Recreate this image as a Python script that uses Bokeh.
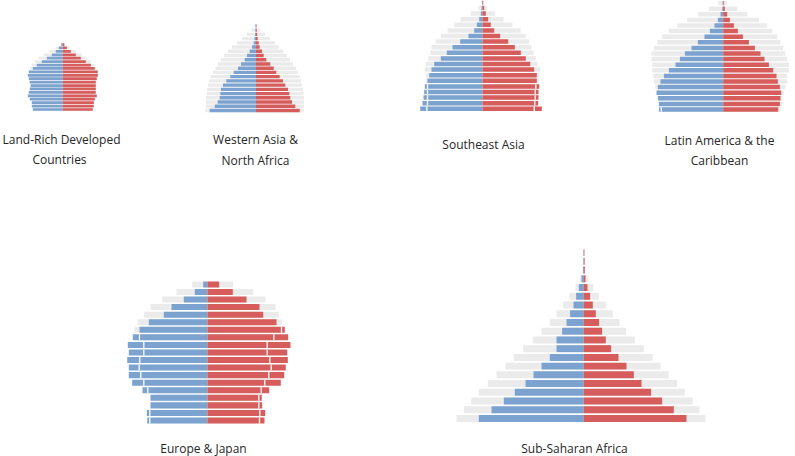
from bokeh.plotting import figure
from bokeh.models import Range1d
from bokeh.embed import file_html
from bokeh.resources import INLINE
from bokeh.core.properties import value

# ---------------- data (rows from youngest age group upward) ----------------
# Land-Rich Developed Countries
lr_male   = [30, 31, 31, 33, 35, 34, 33, 32, 33, 34, 35, 34, 30, 26, 21, 16, 11, 7, 4, 1.5]
lr_female = [30, 31, 31, 32, 34, 33, 33, 33, 33, 34, 35, 35, 32, 28, 23, 18, 13, 8, 4, 1.5]
lr_grey_m = [28, 29, 30, 31, 32, 32, 33, 33, 34, 34, 34, 34, 33, 31, 28, 24, 19, 13, 7, 2]
lr_grey_f = [28, 29, 30, 31, 32, 32, 33, 33, 34, 34, 34, 34, 33, 31, 28, 24, 19, 13, 7, 2]

# Western Asia & North Africa
wa_male   = [46.3, 41.3, 38.3, 36.3, 35.7, 35, 33, 29.7, 25.7, 22.3, 18, 15, 11.3, 9, 6.3, 4, 2.3, 1.5, 1, 0.7, 0.5]
wa_female = [43.7, 39.3, 36, 34.3, 33.3, 32, 29.3, 27, 23.7, 20.3, 17.7, 14.3, 10.3, 7.7, 6, 3.7, 2.7, 1.7, 1.2, 0.8, 0.5]
wa_grey_m = [50.7, 50, 50, 50, 49.5, 49, 48, 47, 45.5, 43, 40.5, 38, 35, 32, 28, 24, 19, 14, 9, 4.5, 1.5]
wa_grey_f = [47.7, 48, 48, 48, 47.5, 47, 46, 45, 44, 42, 40, 37, 34, 31, 27, 23, 19, 14, 9, 4.5, 1.5]

# Southeast Asia
sea_male         = [62.3, 60, 59, 58.3, 57.7, 55, 53.3, 51, 48.3, 41.7, 35.7, 30, 22.3, 14, 8.3, 5.7, 3.3, 1.7, 1, 0.5]
sea_male_inner   = [55.7, 55, 55, 55, 55, 55, 53.3, 51, 48.3, 41.7, 35.7, 30, 22.3, 14, 8.3, 5.7, 3.3, 1.7, 1, 0.5]
sea_female       = [59.3, 55.7, 56, 56, 56.7, 54.3, 54.3, 51.7, 47.7, 43.3, 38.3, 32.3, 25.7, 17.7, 11.7, 8.3, 5.7, 3.3, 1.7, 0.7]
sea_female_inner = [51.7, 52.3, 52.7, 52.7, 53.3, 54.3, 54.3, 51.7, 47.7, 43.3, 38.3, 32.3, 25.7, 17.7, 11.7, 8.3, 5.7, 3.3, 1.7, 0.7]
sea_grey_m       = [54, 54, 55, 55, 56, 56.5, 56.7, 57.7, 56.7, 54.3, 52.3, 51, 46.7, 41.7, 35, 28.3, 21.7, 11.7, 4, 1]
sea_grey_f       = [54, 54, 55, 55, 56, 56.5, 56.7, 57.7, 55, 53.3, 51, 49, 46.7, 43.3, 38.3, 30, 21, 12.3, 4.3, 1]

# Latin America & the Caribbean
la_male       = [64.3, 64.3, 65.3, 66.7, 65.3, 62.7, 59.3, 54.3, 47.7, 43.3, 38.3, 31.7, 25.3, 18.7, 13.3, 8.7, 5.3, 2.7, 1, 0.5]
la_male_inner = [62, 64.3, 65.3, 66.7, 65.3, 62.7, 59.3, 54.3, 47.7, 43.3, 38.3, 31.7, 25.3, 18.7, 13.3, 8.7, 5.3, 2.7, 1, 0.5]
la_female     = [55, 56.7, 57.3, 58, 56.7, 54.7, 53.3, 50, 45.7, 41.3, 37.3, 31.7, 25.7, 19.7, 14.7, 10.7, 6.7, 4, 1.7, 0.7]
la_grey_m     = [60, 62, 64, 66, 68, 69.3, 70, 71, 71, 71.7, 71.7, 69.3, 66, 61, 54.3, 46, 36, 25.3, 14.3, 5]
la_grey_f     = [57.3, 59, 59, 60.7, 62.3, 64, 64, 65.7, 65.7, 64, 62, 60, 57.3, 54, 49, 44, 35.7, 24, 14, 4]

# Europe & Japan
eu_male         = [60.3, 60.7, 57, 57, 65, 75.3, 78.7, 78.7, 80.3, 78.7, 79.7, 74.7, 68, 58.7, 43.7, 36, 23.7, 12.7, 4.3]
eu_male_inner   = [57.7, 57.7, 57, 57, 59.7, 63.7, 66.7, 68.3, 67.7, 63.7, 63.7, 68, 68, 58.7, 43.7, 36, 23.7, 12.7, 4.3]
eu_female       = [57, 57.7, 54.7, 54.3, 61.7, 73.3, 76.7, 78.3, 80.3, 79.7, 83, 80.7, 77.3, 69, 55.7, 52, 39, 25.3, 11.7]
eu_female_inner = [52, 52.3, 51.3, 51.3, 53.7, 57.3, 61.3, 63.7, 62.3, 59.7, 59.7, 66.3, 74, 69, 55.7, 52, 39, 25.3, 11.7]
eu_grey_m       = [50, 50, 50, 50, 52, 55, 58, 62, 64, 66, 68, 70, 73, 69.7, 63.7, 57, 45.3, 31, 15.3]
eu_grey_f       = [48, 48, 48, 48, 50, 53, 56, 60, 62, 64, 66, 70, 75, 74.3, 71.3, 68, 58, 45.7, 25.7]

# Sub-Saharan Africa
ssa_male   = [105, 92.3, 80, 69, 58.3, 50.3, 42.3, 34, 27.3, 27.3, 21.7, 17.3, 13.7, 10.3, 7.7, 5, 2.3, 0.8, 0.5, 0.4]
ssa_female = [102.7, 90, 78.3, 67.3, 57.7, 50, 42.7, 34.7, 27.3, 22, 18.3, 15.3, 12, 9, 6.3, 3.7, 1.7, 1, 0.8, 0.6]
ssa_grey_m = [127.3, 120, 112.7, 105, 96, 87.3, 78.3, 70, 60.7, 51, 42.3, 34, 27.3, 20.7, 14.3, 8.3, 4, 1.5, 1, 0.5]
ssa_grey_f = [121.7, 115.7, 109, 101, 93.3, 85, 76.7, 69, 60, 51, 42.3, 35.7, 29, 22.3, 15, 9.3, 4, 1.5, 1, 0.5]

# ---------------- styling / layout ----------------
BLUE = "#7ca3d0"
RED = "#d75c5c"
GREY = "#ebebeb"
TEXT = "#262626"
FONT = "Open Sans"

W, H = 795, 456
p = figure(width=W, height=H, x_range=Range1d(0, W), y_range=Range1d(H, 0),
           output_backend="svg", toolbar_location=None, min_border=0,
           x_axis_type=None, y_axis_type=None)
p.grid.visible = False
p.outline_line_color = None
p.background_fill_color = "white"
p.border_fill_color = "white"


def pyramid(cx, bottom, step, male, female, grey_m, grey_f, male_inner=None, female_inner=None):
    n = len(male)
    ys = [bottom - i * step for i in range(n)]
    h = step * 0.8
    p.hbar(y=ys, left=[cx - g for g in grey_m], right=[cx + g for g in grey_f], height=h,
           fill_color=GREY, line_color=None)
    p.hbar(y=ys, left=[cx - m for m in male], right=cx, height=h, fill_color=BLUE, line_color=None)
    p.hbar(y=ys, left=cx, right=[cx + f for f in female], height=h, fill_color=RED, line_color=None)
    gx, gy0, gy1 = [], [], []
    if male_inner is not None:
        for yv, o, i in zip(ys, male, male_inner):
            if o - i > 0.5:
                gx.append(cx - i); gy0.append(yv - h / 2); gy1.append(yv + h / 2)
    if female_inner is not None:
        for yv, o, i in zip(ys, female, female_inner):
            if o - i > 0.5:
                gx.append(cx + i); gy0.append(yv - h / 2); gy1.append(yv + h / 2)
    if gx:
        p.segment(x0=gx, x1=gx, y0=gy0, y1=gy1, line_color="white", line_width=1.3)


def title(x, y, txt, align="center"):
    p.text(x=[x], y=[y], text=[txt], text_font=value(FONT), text_font_size="12px",
           text_color=TEXT, text_align=align, text_baseline="alphabetic")


pyramid(62.3, 109, 3.42, lr_male, lr_female, lr_grey_m, lr_grey_f)
pyramid(255.5, 110, 4.23, wa_male, wa_female, wa_grey_m, wa_grey_f)
pyramid(482, 108.3, 5.6, sea_male, sea_female, sea_grey_m, sea_grey_f, sea_male_inner, sea_female_inner)
pyramid(722.7, 109, 5.6, la_male, la_female, la_grey_m, la_grey_f, la_male_inner)
pyramid(207, 420, 7.56, eu_male, eu_female, eu_grey_m, eu_grey_f, eu_male_inner, eu_female_inner)
pyramid(583.3, 418, 8.73, ssa_male, ssa_female, ssa_grey_m, ssa_grey_f)

title(61, 138.5, "Land-Rich Developed")
title(59, 159, "Countries")
title(255, 139, "Western Asia &")
title(255, 159.5, "North Africa")
title(483, 143.5, "Southeast Asia")
title(719, 139.5, "Latin America & the")
title(719, 160, "Caribbean")
title(203, 448, "Europe & Japan")
title(574, 448, "Sub-Saharan Africa")

open("out.html", "w").write(file_html(p, INLINE))
